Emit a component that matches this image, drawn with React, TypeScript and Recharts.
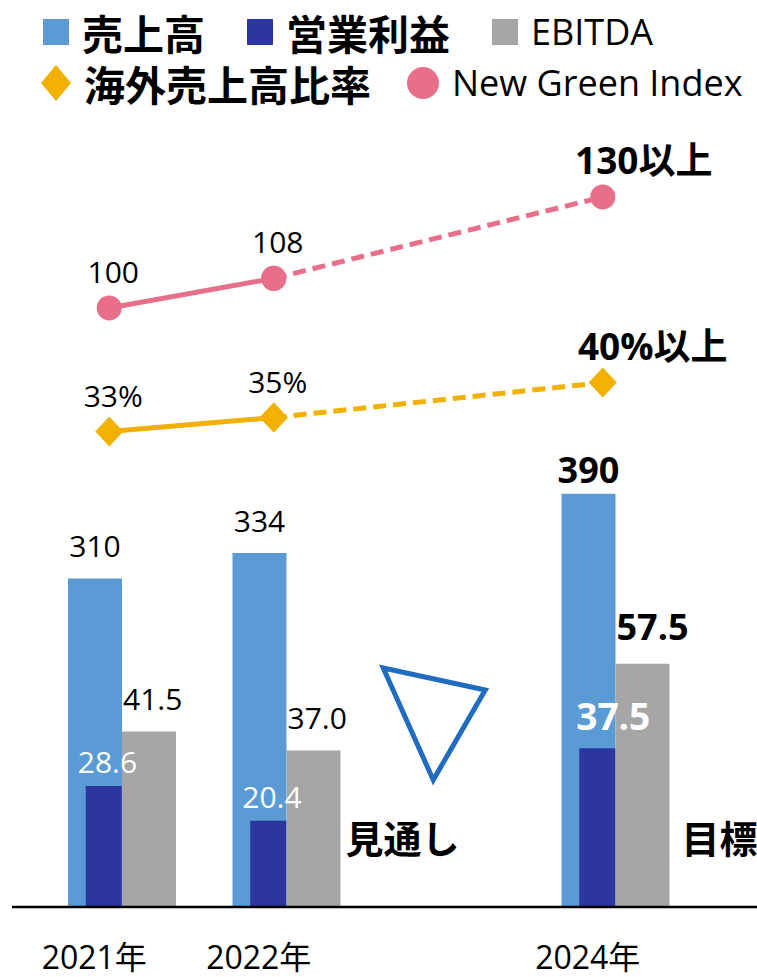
import React from "react";
import { ComposedChart, Bar, Line, XAxis, YAxis, LabelList, ReferenceDot } from "recharts";

const years = ["2021年", "2022年", "2023年", "2024年"];
const tickYears = ["2021年", "2022年", "2024年"];
const sales = [310, 334, null, 390];
const operatingProfit = [28.6, 20.4, null, 37.5];
const ebitda = [41.5, 37.0, null, 57.5];
const overseasActual = [33, 35, null, null];
const overseasTarget = [null, 35, null, 40];
const ngiActual = [100, 108, null, null];
const ngiTarget = [null, 108, null, 130];
const notes = ["", "見通し", "", "目標"];

const C = {
  sales: "#5B9BD5",
  op: "#2B379E",
  ebitda: "#A6A6A6",
  overseas: "#F2B100",
  ngi: "#E86F89",
  tri: "#1F6CC0",
};

const NUM = "'Open Sans', 'Noto Sans CJK JP', sans-serif";
const JP = "'Noto Sans CJK JP', sans-serif";

const rows = years.map((year, i) => ({
  year,
  sales: sales[i],
  op: operatingProfit[i],
  ebitda: ebitda[i],
  overseasActual: overseasActual[i],
  overseasTarget: overseasTarget[i],
  ngiActual: ngiActual[i],
  ngiTarget: ngiTarget[i],
}));

const legendRows = [
  [
    { name: "売上高", color: C.sales, shape: "square", jp: true },
    { name: "営業利益", color: C.op, shape: "square", jp: true },
    { name: "EBITDA", color: C.ebitda, shape: "square", jp: false },
  ],
  [
    { name: "海外売上高比率", color: C.overseas, shape: "diamond", jp: true },
    { name: "New Green Index", color: C.ngi, shape: "circle", jp: false },
  ],
];

function Marker({ shape, color }: { shape: string; color: string }) {
  if (shape === "square") return <div style={{ width: 26, height: 26, background: color }} />;
  if (shape === "circle") return <div style={{ width: 32, height: 32, borderRadius: 16, background: color }} />;
  return (
    <svg width={30} height={36}>
      <polygon points="15,0 30,18 15,36 0,18" fill={color} />
    </svg>
  );
}

function LegendBox() {
  return (
    <>
      {legendRows.map((row, r) => (
        <div key={r} style={{ position: "absolute", left: r === 0 ? 43 : 41, top: r === 0 ? 13 : 64, height: 38, display: "flex", alignItems: "center", whiteSpace: "nowrap" }}>
          {row.map((it) => (
            <div key={it.name} style={{ display: "flex", alignItems: "center", marginRight: r === 0 ? 42 : 36 }}>
              <Marker shape={it.shape} color={it.color} />
              <div style={{ marginLeft: 13, height: 38, fontFamily: it.jp ? JP : NUM, fontWeight: it.jp ? 700 : 400, fontSize: it.jp ? 41 : 36, lineHeight: "38px", color: "#000" }}>{it.name}</div>
            </div>
          ))}
        </div>
      ))}
    </>
  );
}

const YearTick = (p: any) => (
  <text x={p.x - 28} y={p.y + 62} textAnchor="middle" fontSize={32} fontFamily={NUM} fill="#000">{p.payload.value}</text>
);

const SalesLabel = (p: any) => {
  if (p.value == null) return null;
  const big = sales.indexOf(p.value) === 3;
  return (
    <text x={p.x + p.width / 2} y={p.y - (big ? 11 : 21)} textAnchor="middle" fontSize={big ? 36 : 30} fontWeight={big ? 700 : 400} fontFamily={NUM} fill="#000">{p.value}</text>
  );
};

const EbitdaLabel = (p: any) => {
  if (p.value == null) return null;
  const i = ebitda.indexOf(p.value);
  const big = i === 3;
  const note = notes[i];
  return (
    <g>
      <text x={p.x + 1} y={p.y - (big ? 24 : 21)} fontSize={big ? 36 : 30} fontWeight={big ? 700 : 400} fontFamily={NUM} fill="#000">{Number(p.value).toFixed(1)}</text>
      {note && (
        <text x={p.x + p.width + (big ? 12 : 5)} y={p.y + p.height - 54} fontSize={38} fontWeight={700} fontFamily={JP} fill="#000">{note}</text>
      )}
    </g>
  );
};

const OpLabel = (p: any) => {
  if (p.value == null) return null;
  const big = operatingProfit.indexOf(p.value) === 3;
  return (
    <text x={p.x - (big ? 3 : 8)} y={p.y - (big ? 18 : 13)} fontSize={big ? 37 : 30} fontWeight={big ? 700 : 400} fontFamily={NUM} fill="#fff">{Number(p.value).toFixed(1)}</text>
  );
};

const makeLineLabel = (suffix: string, onlyLast: boolean) => (p: any) => {
  if (p.value == null) return null;
  if (onlyLast && p.index !== 3) return null;
  if (!onlyLast && p.index === 3) return null;
  const last = p.index === 3;
  return (
    <text x={p.x + (last ? (suffix ? 50 : 41) : 4)} y={p.y - (last ? 23 : 25)} textAnchor="middle" fontSize={last ? 37 : 30} fontWeight={last ? 700 : 400} fontFamily={NUM} fill="#000">
      {p.value}{suffix}{last ? "以上" : ""}
    </text>
  );
};

const CircleDot = (p: any) => (p.value == null ? null : <circle cx={p.cx} cy={p.cy} r={12.5} fill={C.ngi} />);
const DiamondDot = (p: any) =>
  p.value == null ? null : (
    <polygon points={`${p.cx},${p.cy - 15} ${p.cx + 14},${p.cy} ${p.cx},${p.cy + 15} ${p.cx - 14},${p.cy}`} fill={C.overseas} />
  );

const TriangleMark = (p: any) => (
  <polygon
    points={`${p.cx - 68},${p.cy - 44} ${p.cx + 34},${p.cy - 22} ${p.cx - 18},${p.cy + 68}`}
    fill="none"
    stroke={C.tri}
    strokeWidth={5}
    strokeLinejoin="miter"
  />
);

export default function App() {
  return (
    <div style={{ position: "absolute", left: 0, top: 0, width: 757, height: 977, background: "#fff", overflow: "hidden" }}>
      <LegendBox />
      <ComposedChart width={757} height={977} data={rows} margin={{ top: 120, right: 0, bottom: 0, left: 12 }} barGap={0}>
        <XAxis
          xAxisId="main"
          dataKey="year"
          height={70}
          padding={{ left: 28, right: 59 }}
          ticks={tickYears}
          interval={0}
          tick={<YearTick />}
          tickLine={false}
          tickSize={0}
          tickMargin={0}
          axisLine={{ stroke: "#000", strokeWidth: 2.5 }}
        />
        <XAxis xAxisId="op" dataKey="year" hide height={0} padding={{ left: 9.75, right: 77.25 }} />
        <XAxis xAxisId="line" dataKey="year" hide height={0} padding={{ left: 15, right: 72 }} />
        <YAxis yAxisId="rev" hide domain={[0, 742.5]} allowDataOverflow />
        <YAxis yAxisId="profit" hide domain={[0, 186]} allowDataOverflow />
        <YAxis yAxisId="ratio" hide domain={[-34.9, 77.5]} allowDataOverflow />
        <YAxis yAxisId="ngi" hide domain={[-61.9, 150.8]} allowDataOverflow />

        <Bar xAxisId="main" yAxisId="rev" dataKey="sales" name="売上高" fill={C.sales} barSize={54} isAnimationActive={false}>
          <LabelList dataKey="sales" content={<SalesLabel />} />
        </Bar>
        <Bar xAxisId="main" yAxisId="profit" dataKey="ebitda" name="EBITDA" fill={C.ebitda} barSize={54} isAnimationActive={false}>
          <LabelList dataKey="ebitda" content={<EbitdaLabel />} />
        </Bar>
        <Bar xAxisId="op" yAxisId="profit" dataKey="op" name="営業利益" fill={C.op} barSize={36} isAnimationActive={false}>
          <LabelList dataKey="op" content={<OpLabel />} />
        </Bar>

        <ReferenceDot xAxisId="main" yAxisId="rev" x="2023年" y={184} r={0} shape={<TriangleMark />} />

        <Line xAxisId="line" yAxisId="ngi" dataKey="ngiTarget" stroke={C.ngi} strokeWidth={5} strokeDasharray="13 7" connectNulls dot={<CircleDot />} activeDot={false} isAnimationActive={false} label={makeLineLabel("", true)} />
        <Line xAxisId="line" yAxisId="ngi" dataKey="ngiActual" stroke={C.ngi} strokeWidth={5} dot={<CircleDot />} activeDot={false} isAnimationActive={false} label={makeLineLabel("", false)} />
        <Line xAxisId="line" yAxisId="ratio" dataKey="overseasTarget" stroke={C.overseas} strokeWidth={5} strokeDasharray="13 7" connectNulls dot={<DiamondDot />} activeDot={false} isAnimationActive={false} label={makeLineLabel("%", true)} />
        <Line xAxisId="line" yAxisId="ratio" dataKey="overseasActual" stroke={C.overseas} strokeWidth={5} dot={<DiamondDot />} activeDot={false} isAnimationActive={false} label={makeLineLabel("%", false)} />
      </ComposedChart>
    </div>
  );
}
